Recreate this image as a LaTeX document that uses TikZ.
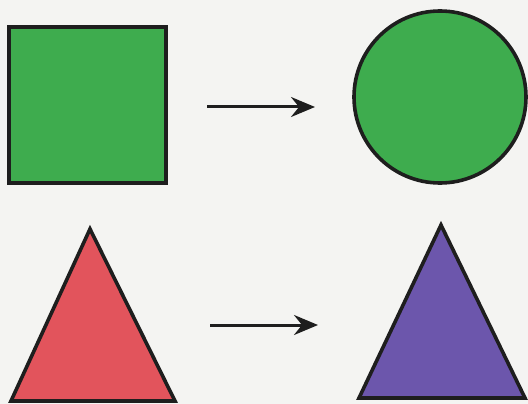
\documentclass[tikz,border=0pt]{standalone}
\usetikzlibrary{arrows.meta}
\definecolor{bgpaper}{RGB}{244,244,242}
\definecolor{shapegreen}{RGB}{62,172,78}
\definecolor{shapered}{RGB}{226,84,92}
\definecolor{shapepurple}{RGB}{108,86,172}
\definecolor{inkline}{RGB}{30,30,30}
\tikzset{
  figure/.style={draw=inkline, line width=3.6pt, line join=miter},
  trarrow/.style={draw=inkline, line width=3pt, -{Stealth[length=24pt,width=20pt,inset=8pt]}},
}
\begin{document}
\begin{tikzpicture}[x=1pt,y=-1pt]
\fill[bgpaper] (0,0) rectangle (528,404);
\useasboundingbox (0,0) rectangle (528,404);
% top row
\draw[figure, fill=shapegreen] (9,27) rectangle (166,183);
\draw[figure, fill=shapegreen] (440,97) circle (86);
% bottom row
\draw[figure, fill=shapered] (90,229) -- (175,401) -- (11,401) -- cycle;
\draw[figure, fill=shapepurple] (441,225) -- (525,398) -- (359,398) -- cycle;
% arrows
\coordinate (a1s) at (207,107);
\coordinate (a1e) at (315,107);
\coordinate (a2s) at (210,325);
\coordinate (a2e) at (318,325);
\draw[trarrow] (a1s) -- (a1e);
\draw[trarrow] (a2s) -- (a2e);
\end{tikzpicture}
\end{document}
